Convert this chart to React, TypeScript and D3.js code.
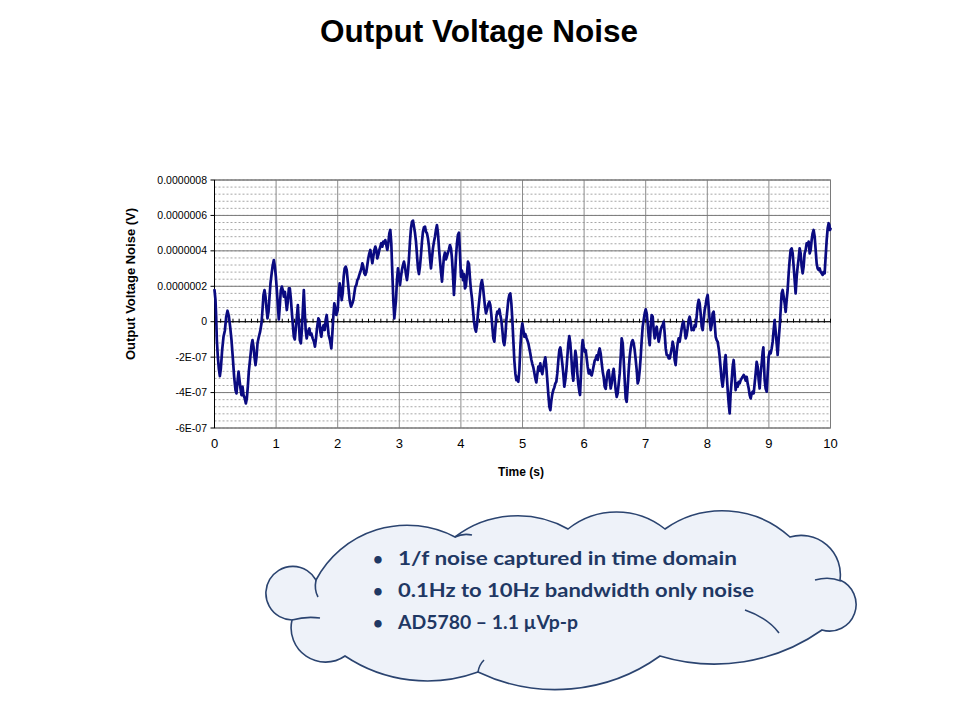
import React from 'react';
import * as d3 from 'd3';

const TITLE = 'Output Voltage Noise';
const X_LABEL = 'Time (s)';
const Y_LABEL = 'Output Voltage Noise (V)';
const X_TICKS = [0, 1, 2, 3, 4, 5, 6, 7, 8, 9, 10];
const Y_TICK_VALUES = [8e-7, 6e-7, 4e-7, 2e-7, 0, -2e-7, -4e-7, -6e-7];
const Y_TICK_LABELS = ['0.0000008', '0.0000006', '0.0000004', '0.0000002', '0', '-2E-07', '-4E-07', '-6E-07'];
const BULLETS = [
  '1/f noise captured in time domain',
  '0.1Hz to 10Hz bandwidth only noise',
  'AD5780 \u2013 1.1 \u00b5Vp-p',
];

// noise samples: [time (s), voltage in units of 1e-7 V]
const NOISE_UNIT = 1e-7;
const NOISE: [number, number][] = [
  [0.000,1.79],[0.016,1.22],[0.027,0.28],[0.038,-1.04],[0.054,-1.98],[0.070,-2.64],[0.087,-3.07],[0.103,-2.64],[0.124,-1.60],[0.146,-0.85],[0.168,-0.51],[0.190,0.28],[0.211,0.62],[0.233,0.32],[0.254,-0.28],[0.276,-1.04],[0.298,-2.07],[0.319,-3.11],[0.341,-3.86],[0.357,-4.05],[0.373,-3.39],[0.390,-2.82],[0.406,-3.30],[0.422,-3.77],[0.438,-4.14],[0.455,-3.67],[0.471,-4.14],[0.492,-4.33],[0.509,-4.61],[0.525,-4.33],[0.541,-3.67],[0.557,-2.82],[0.579,-2.07],[0.601,-1.32],[0.617,-1.04],[0.633,-1.41],[0.649,-1.98],[0.666,-2.45],[0.682,-1.98],[0.698,-1.22],[0.720,-0.85],[0.741,-0.56],[0.763,-0.09],[0.779,0.66],[0.795,1.51],[0.812,1.79],[0.828,1.41],[0.844,0.75],[0.860,0.19],[0.877,0.56],[0.893,1.41],[0.909,2.17],[0.925,2.64],[0.942,3.11],[0.963,3.48],[0.979,3.14],[0.996,2.54],[1.012,1.79],[1.028,0.94],[1.044,0.13],[1.061,0.94],[1.077,1.79],[1.093,1.98],[1.109,1.79],[1.126,1.41],[1.142,1.69],[1.158,1.22],[1.174,0.66],[1.190,1.13],[1.207,1.88],[1.223,1.88],[1.239,1.32],[1.255,0.56],[1.272,-0.19],[1.288,-0.85],[1.304,-1.00],[1.320,-0.38],[1.337,0.28],[1.353,0.94],[1.369,0.00],[1.385,-1.04],[1.402,-1.22],[1.418,-0.47],[1.434,0.66],[1.450,1.79],
  [1.464,0.66],[1.480,-0.47],[1.496,-0.94],[1.518,-0.56],[1.540,-0.38],[1.556,-0.75],[1.572,-0.66],[1.594,-0.94],[1.615,-1.13],[1.631,-1.41],[1.648,-0.94],[1.664,-0.38],[1.686,0.19],[1.702,0.09],[1.718,-0.56],[1.734,-0.85],[1.751,-0.38],[1.772,-0.19],[1.788,-0.47],[1.805,0.09],[1.821,0.38],[1.837,-0.19],[1.853,-0.75],[1.875,-1.04],[1.897,-1.51],[1.913,-0.66],[1.929,0.28],[1.945,1.04],[1.962,0.75],[1.978,0.38],[2.000,0.66],[2.016,1.60],[2.032,2.17],[2.049,1.79],[2.065,1.22],[2.081,1.60],[2.097,2.54],[2.113,3.01],[2.130,3.11],[2.146,2.92],[2.162,2.35],[2.178,1.79],[2.194,1.22],[2.216,0.85],[2.238,1.04],[2.254,1.22],[2.270,1.60],[2.286,1.98],[2.303,2.07],[2.319,2.35],[2.335,2.45],[2.351,2.64],[2.368,2.82],[2.384,3.01],[2.400,3.30],[2.416,3.11],[2.432,2.73],[2.449,2.64],[2.465,2.82],[2.481,3.20],[2.497,3.58],[2.513,3.86],[2.530,4.05],[2.546,3.67],[2.562,3.30],[2.578,3.67],[2.595,4.05],[2.611,4.24],[2.627,4.05],[2.643,3.58],[2.659,3.77],[2.676,4.05],[2.692,4.24],[2.708,4.43],[2.724,4.24],[2.741,4.52],[2.757,4.43],[2.773,4.61],[2.789,4.33],[2.805,4.05],[2.822,4.43],[2.838,4.99],[2.854,5.18],[2.870,4.43],[2.887,2.73],[2.903,1.22],[2.919,0.19],
  [2.946,1.22],[2.962,2.35],[2.978,3.01],[2.995,2.64],[3.011,2.07],[3.027,2.54],[3.043,2.92],[3.059,3.20],[3.076,3.39],[3.092,3.11],[3.108,2.69],[3.124,2.35],[3.141,2.82],[3.157,3.58],[3.173,4.52],[3.189,5.27],[3.206,5.65],[3.222,5.71],[3.238,5.37],[3.254,5.03],[3.271,4.52],[3.287,3.77],[3.303,3.01],[3.319,2.69],[3.335,3.11],[3.352,3.77],[3.368,4.52],[3.384,5.08],[3.400,5.33],[3.417,5.37],[3.433,5.08],[3.449,4.99],[3.465,4.71],[3.482,4.24],[3.498,3.58],[3.514,3.01],[3.530,3.58],[3.546,4.14],[3.563,4.52],[3.579,4.80],[3.595,5.18],[3.611,5.46],[3.628,4.99],[3.644,4.14],[3.660,3.48],[3.676,2.82],[3.693,2.26],[3.709,3.01],[3.725,3.67],[3.741,3.90],[3.757,3.52],[3.774,3.71],[3.790,3.90],[3.806,4.09],[3.822,4.33],[3.839,4.14],[3.855,3.58],[3.871,2.64],[3.887,1.51],[3.904,2.54],[3.920,3.67],[3.936,4.43],[3.952,4.90],[3.969,5.03],[3.985,3.86],[4.001,2.54],[4.017,2.88],[4.034,2.35],[4.050,2.69],[4.066,1.88],[4.082,2.02],[4.099,2.73],[4.115,3.39],[4.131,3.26],[4.147,2.45],[4.163,1.79],[4.180,1.32],[4.196,0.66],[4.212,0.06],[4.228,-0.38],[4.245,-0.56],[4.261,-0.19],[4.277,0.47],[4.293,1.04],[4.310,1.60],[4.326,2.13],[4.342,2.35],[4.358,1.98],[4.374,1.41],[4.391,0.85],[4.407,0.47],[4.423,0.66],
  [4.445,1.00],[4.462,1.13],[4.478,0.94],[4.494,0.38],[4.510,-0.28],[4.527,-0.94],[4.543,-1.13],[4.559,-0.38],[4.575,0.28],[4.591,0.57],[4.608,0.47],[4.624,0.70],[4.640,0.38],[4.656,0.10],[4.673,-0.47],[4.689,-1.13],[4.705,-1.32],[4.721,-0.85],[4.738,0.10],[4.754,0.66],[4.770,1.23],[4.786,1.51],[4.802,1.60],[4.819,1.04],[4.835,0.10],[4.851,-1.04],[4.867,-2.17],[4.884,-2.92],[4.900,-3.30],[4.916,-3.11],[4.932,-3.39],[4.949,-2.73],[4.965,-1.45],[4.981,-0.51],[4.997,-0.09],[5.014,-0.47],[5.030,-0.85],[5.046,-0.70],[5.062,-0.89],[5.078,-1.04],[5.095,-1.22],[5.111,-1.51],[5.127,-1.79],[5.143,-2.13],[5.160,-2.39],[5.176,-2.58],[5.192,-2.88],[5.208,-3.20],[5.224,-3.43],[5.241,-2.96],[5.257,-2.54],[5.273,-2.77],[5.289,-2.35],[5.306,-2.77],[5.322,-2.96],[5.338,-2.58],[5.354,-2.26],[5.371,-2.01],[5.387,-2.58],[5.403,-3.33],[5.419,-4.09],[5.436,-4.80],[5.452,-4.99],[5.468,-4.46],[5.484,-4.09],[5.500,-3.86],[5.517,-3.71],[5.533,-3.48],[5.549,-3.39],[5.565,-2.92],[5.582,-2.17],[5.598,-1.60],[5.614,-1.45],[5.630,-1.88],[5.647,-2.39],[5.663,-2.96],[5.679,-3.67],[5.695,-3.30],[5.712,-2.73],[5.728,-1.98],[5.744,-1.22],[5.760,-0.81],[5.777,-1.26],[5.793,-2.02],[5.809,-2.92],[5.825,-3.33],[5.841,-2.39],[5.858,-1.64],[5.874,-2.02],[5.890,-2.92],[5.906,-3.52],[5.923,-3.95],
  [5.934,-4.14],[5.950,-2.92],[5.966,-1.41],[5.977,-1.04],[5.993,-1.41],[6.010,-1.70],[6.026,-1.60],[6.042,-2.07],[6.058,-2.54],[6.075,-2.92],[6.091,-2.73],[6.107,-2.96],[6.123,-3.03],[6.140,-2.77],[6.156,-2.47],[6.172,-2.20],[6.188,-2.09],[6.205,-1.90],[6.221,-2.16],[6.237,-1.71],[6.253,-1.51],[6.269,-1.79],[6.286,-2.35],[6.302,-2.82],[6.318,-3.14],[6.334,-3.67],[6.351,-3.79],[6.367,-3.22],[6.383,-2.84],[6.399,-2.73],[6.416,-3.29],[6.432,-3.77],[6.448,-3.48],[6.464,-2.96],[6.480,-2.66],[6.497,-3.29],[6.513,-3.86],[6.529,-4.24],[6.545,-4.05],[6.562,-3.48],[6.578,-2.92],[6.594,-1.98],[6.610,-0.94],[6.627,-1.22],[6.643,-2.16],[6.659,-3.29],[6.675,-4.33],[6.691,-4.52],[6.708,-3.67],[6.724,-2.73],[6.740,-1.98],[6.756,-1.51],[6.773,-1.15],[6.789,-1.04],[6.805,-1.22],[6.821,-1.60],[6.838,-2.16],[6.854,-2.73],[6.870,-3.48],[6.886,-3.30],[6.903,-2.73],[6.919,-1.98],[6.935,-1.04],[6.951,-0.28],[6.967,0.10],[6.984,0.47],[7.000,0.70],[7.016,0.47],[7.032,-0.09],[7.049,-0.85],[7.065,-1.32],[7.081,-0.28],[7.097,0.38],[7.114,0.28],[7.130,-0.47],[7.146,-0.94],[7.162,-0.47],[7.179,-0.28],[7.195,-0.75],[7.211,-1.13],[7.227,-0.85],[7.243,-0.47],[7.260,-0.28],[7.276,-0.19],[7.292,0.00],[7.308,-0.66],[7.325,-1.51],[7.341,-1.88],[7.357,-1.88],[7.373,-2.07],[7.390,-2.07],[7.406,-1.79],[7.427,-1.41],
  [7.438,-1.13],[7.454,-1.41],[7.470,-2.16],[7.486,-2.45],[7.503,-1.70],[7.519,-1.22],[7.535,-0.94],[7.551,-1.13],[7.568,-0.75],[7.584,-0.38],[7.600,-0.09],[7.616,0.00],[7.633,-0.47],[7.649,-0.94],[7.665,-0.75],[7.681,-0.38],[7.697,0.10],[7.714,0.28],[7.730,0.00],[7.746,-0.47],[7.762,-0.38],[7.779,-0.47],[7.795,-0.19],[7.811,-0.28],[7.827,0.28],[7.844,0.94],[7.860,1.23],[7.876,1.04],[7.892,0.47],[7.909,-0.28],[7.925,-0.47],[7.941,0.10],[7.957,0.66],[7.973,0.94],[7.990,1.32],[8.006,1.51],[8.022,0.85],[8.038,0.10],[8.055,-0.47],[8.071,-0.19],[8.087,0.47],[8.103,0.57],[8.120,-0.09],[8.136,-0.85],[8.152,-1.04],[8.168,-1.13],[8.185,-1.51],[8.201,-1.98],[8.217,-2.64],[8.233,-3.30],[8.249,-3.67],[8.266,-3.11],[8.282,-2.26],[8.298,-1.88],[8.314,-2.92],[8.331,-3.86],[8.347,-4.61],[8.363,-5.18],[8.379,-4.05],[8.396,-3.30],[8.412,-2.54],[8.428,-2.16],[8.444,-2.92],[8.460,-3.86],[8.477,-3.48],[8.493,-3.67],[8.509,-3.39],[8.525,-3.48],[8.542,-3.30],[8.558,-3.20],[8.574,-3.11],[8.590,-3.01],[8.607,-3.11],[8.623,-3.33],[8.639,-3.11],[8.655,-3.48],[8.672,-3.77],[8.688,-4.14],[8.704,-4.33],[8.720,-4.05],[8.736,-3.95],[8.753,-4.05],[8.769,-3.48],[8.785,-2.92],[8.801,-2.26],[8.818,-2.54],[8.834,-3.30],[8.850,-3.77],[8.866,-2.92],[8.883,-2.35],[8.899,-1.70],[8.910,-1.45],
  [8.931,-3.30],[8.947,-3.77],[8.964,-3.95],[8.980,-2.92],[8.996,-1.98],[9.012,-1.69],[9.028,-1.79],[9.045,-1.51],[9.061,-1.13],[9.077,-0.47],[9.093,0.09],[9.110,-0.56],[9.126,-1.22],[9.142,-1.88],[9.158,-1.04],[9.175,-0.28],[9.191,0.66],[9.207,1.60],[9.223,1.79],[9.240,1.41],[9.256,1.04],[9.272,0.56],[9.288,1.22],[9.304,1.79],[9.321,2.73],[9.337,3.48],[9.353,4.05],[9.369,4.14],[9.386,3.86],[9.402,3.11],[9.418,2.35],[9.434,1.60],[9.451,2.54],[9.467,3.11],[9.483,3.58],[9.499,4.14],[9.515,3.86],[9.532,3.11],[9.548,2.73],[9.564,3.11],[9.580,3.86],[9.597,4.05],[9.613,4.43],[9.629,4.33],[9.645,4.52],[9.662,3.86],[9.678,4.05],[9.694,4.61],[9.710,4.99],[9.726,5.18],[9.743,4.80],[9.759,4.05],[9.775,3.30],[9.791,3.01],[9.808,2.92],[9.824,3.01],[9.840,2.82],[9.856,2.73],[9.873,2.64],[9.889,2.82],[9.905,2.73],[9.921,3.67],[9.938,4.61],[9.954,5.27],[9.970,5.56],[9.981,5.46],[9.992,5.18],[10.000,5.25],
];

const FONT = "'Liberation Sans', Arial, sans-serif";

// cloud outline: [x, y, bulge] — bulge of the arc leading to this point
const CLOUD_PTS: [number, number, number][] = [
  [316, 580, 0],
  [455, 537, 30],
  [568, 529, 17],
  [665, 529, 17],
  [790, 537, 22],
  [840, 580, 18],
  [822, 630, 25],
  [660, 656, 19],
  [478, 672, 25],
  [345, 656, 16],
  [292, 620, 22],
  [316, 580, 40],
];

function cloudPath(): string {
  let d = `M${CLOUD_PTS[0][0]},${CLOUD_PTS[0][1]}`;
  for (let i = 1; i < CLOUD_PTS.length; i++) {
    const [x0, y0] = CLOUD_PTS[i - 1];
    const [x1, y1, s] = CLOUD_PTS[i];
    const c = Math.hypot(x1 - x0, y1 - y0);
    const r = (c * c / 4 + s * s) / (2 * s);
    const large = s > c / 2 ? 1 : 0;
    d += ` A${r.toFixed(2)},${r.toFixed(2)} 0 ${large} 1 ${x1},${y1}`;
  }
  return d + 'Z';
}

export default function App() {
  const x = d3.scaleLinear().domain([0, 10]).range([214.5, 830.5]);
  const y = d3.scaleLinear().domain([-6e-7, 8e-7]).range([428, 180]);
  const line = d3
    .line<[number, number]>()
    .x((d) => x(d[0]))
    .y((d) => y(d[1] * NOISE_UNIT));

  const minorY = d3.range(-15, 21).map((i) => i * 0.4e-7);
  const minorX = d3.range(0, 101).map((i) => i / 10);
  const x0 = x(0), x1 = x(10), yTop = y(8e-7), yBot = y(-6e-7), yZero = y(0);
  const cloudStroke = '#2b4470';

  return (
    <svg width={960} height={720} style={{ position: 'absolute', left: 0, top: 0, background: '#fff' }}>
      <rect x={0} y={0} width={960} height={720} fill="#fff" />
      <text x={479} y={42} textAnchor="middle" fontFamily={FONT} fontWeight="bold" fontSize={31.5} fill="#000">
        {TITLE}
      </text>

      {minorY.map((v, i) => (
        <line key={'mn' + i} x1={x0} x2={x1} y1={y(v)} y2={y(v)} stroke="#a6a6a6" strokeWidth={1} strokeDasharray="2,2" />
      ))}
      {X_TICKS.map((t) => (
        <line key={'vx' + t} x1={x(t)} x2={x(t)} y1={yTop} y2={yBot} stroke="#8c8c8c" strokeWidth={1} />
      ))}
      {Y_TICK_VALUES.map((v, i) => (
        <line key={'mj' + i} x1={x0} x2={x1} y1={y(v)} y2={y(v)} stroke="#7a7a7a" strokeWidth={1} />
      ))}
      <rect x={x0} y={yTop} width={x1 - x0} height={yBot - yTop} fill="none" stroke="#7a7a7a" strokeWidth={1} />
      <line x1={x0} x2={x0} y1={yTop} y2={yBot} stroke="#000" strokeWidth={1} />
      {Y_TICK_VALUES.map((v, i) => (
        <line key={'yt' + i} x1={x0 - 4} x2={x0} y1={y(v)} y2={y(v)} stroke="#000" strokeWidth={1} />
      ))}
      <line x1={x0} x2={x1} y1={yZero} y2={yZero} stroke="#000" strokeWidth={1} />
      {minorX.map((t, i) => (
        <line key={'xt' + i} x1={x(t)} x2={x(t)} y1={yZero - 3} y2={yZero + 1} stroke="#000" strokeWidth={1} />
      ))}

      <path d={line(NOISE) || ''} fill="none" stroke="#0a0a80" strokeWidth={2.7} strokeLinejoin="round" strokeLinecap="round" />

      {Y_TICK_VALUES.map((v, i) => (
        <text key={'yl' + i} x={207} y={y(v) + 3.6} textAnchor="end" fontFamily={FONT} fontSize={10.5} fill="#000">
          {Y_TICK_LABELS[i]}
        </text>
      ))}
      {X_TICKS.map((t) => (
        <text key={'xl' + t} x={x(t)} y={448} textAnchor="middle" fontFamily={FONT} fontSize={13} fill="#000">
          {t}
        </text>
      ))}
      <text x={521} y={476} textAnchor="middle" fontFamily={FONT} fontWeight="bold" fontSize={12} fill="#000">
        {X_LABEL}
      </text>
      <text
        transform={`translate(135,284) rotate(-90)`}
        textAnchor="middle"
        fontFamily={FONT}
        fontWeight="bold"
        fontSize={13}
        fill="#000"
      >
        {Y_LABEL}
      </text>

      <path d={cloudPath()} fill="#eef2f9" stroke={cloudStroke} strokeWidth={1.6} />
      <path d="M745,610 Q768,618 779,633" fill="none" stroke={cloudStroke} strokeWidth={1.6} />
      <path d="M815,580 Q829,576 841,581" fill="none" stroke={cloudStroke} strokeWidth={1.6} />
      <path d="M455,537 Q463,533 472,535" fill="none" stroke={cloudStroke} strokeWidth={1.6} />
      <path d="M478,672 Q479,665 484,660" fill="none" stroke={cloudStroke} strokeWidth={1.6} />
      <path d="M316,580 Q314,590 318,597" fill="none" stroke={cloudStroke} strokeWidth={1.6} />
      <path d="M292,620 Q306,616 320,618" fill="none" stroke={cloudStroke} strokeWidth={1.6} />
      {BULLETS.map((b, i) => (
        <g key={'b' + i}>
          <text x={373} y={565 + i * 32} fontFamily="Lato, 'Open Sans', sans-serif" fontWeight="bold" fontSize={17} fill="#1f3864">
            {'\u2022'}
          </text>
          <text
            x={398}
            y={565 + i * 32}
            fontFamily="Lato, 'Open Sans', sans-serif"
            fontWeight="bold"
            fontSize={19.5}
            fill="#1f3864"
            textLength={[339, 356, 180][i]}
            lengthAdjust="spacingAndGlyphs"
          >
            {b}
          </text>
        </g>
      ))}
    </svg>
  );
}
